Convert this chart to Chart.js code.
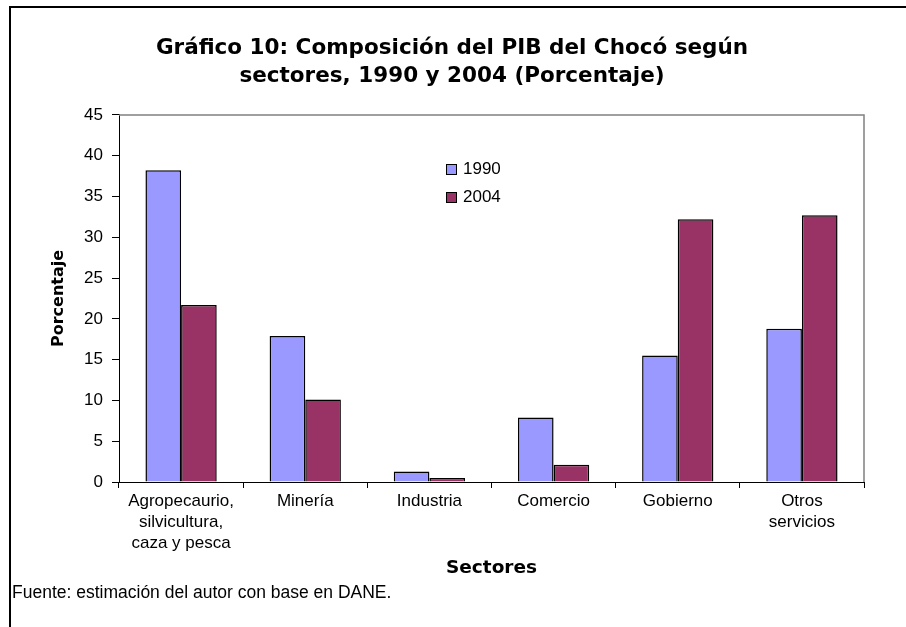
<!DOCTYPE html>
<html><head><meta charset="utf-8">
<script src="https://cdn.jsdelivr.net/npm/chart.js@4/dist/chart.umd.min.js"></script>
<style>html,body{margin:0;padding:0;background:#fff;overflow:hidden}#wrap{width:906px;height:627px;position:relative}</style>
</head><body><div id="wrap"><canvas id="c"></canvas></div>
<script>
const categories = [["Agropecaurio,","silvicultura,","caza y pesca"],"Minería","Industria","Comercio","Gobierno",["Otros","servicios"]];
const series1990 = [38.2, 17.9, 1.3, 7.9, 15.5, 18.8];
const series2004 = [21.7, 10.1, 0.5, 2.1, 32.2, 32.7];
const seriesLabels = ["1990", "2004"];
const seriesColors = ["#9999FF", "#993366"];
const yTicks = [0, 5, 10, 15, 20, 25, 30, 35, 40, 45];
const titleLines = ["Gráfico 10: Composición del PIB del Chocó según", "sectores, 1990 y 2004 (Porcentaje)"];
const xTitle = "Sectores";
const yTitle = "Porcentaje";
const footnote = "Fuente: estimación del autor con base en DANE.";

const REG = '"Liberation Sans", Arial, sans-serif';
const BOLD = '"DejaVu Sans", sans-serif';

const deco = {
  id: 'deco',
  beforeDraw(chart) {
    const ctx = chart.ctx;
    ctx.save();
    ctx.fillStyle = '#fff';
    ctx.fillRect(0, 0, chart.width, chart.height);
    ctx.restore();
  },
  afterDraw(chart) {
    const ctx = chart.ctx, a = chart.chartArea;
    ctx.save();
    ctx.strokeStyle = '#808080';
    ctx.lineWidth = 1.5;
    ctx.beginPath();
    ctx.moveTo(a.left, a.top);
    ctx.lineTo(a.right, a.top);
    ctx.lineTo(a.right, a.bottom);
    ctx.stroke();
    ctx.fillStyle = '#000';
    ctx.fillRect(9, 6, 2, chart.height - 6);
    ctx.fillRect(9, 6, chart.width - 9, 2);
    ctx.font = '17px ' + REG;
    ctx.textBaseline = 'middle';
    ctx.textAlign = 'left';
    chart.data.datasets.forEach((ds, i) => {
      const y = 164 + i * 28;
      ctx.fillStyle = ds.backgroundColor;
      ctx.fillRect(446, y, 10, 10);
      ctx.strokeStyle = '#000';
      ctx.lineWidth = 1;
      ctx.strokeRect(446.5, y + 0.5, 10, 10);
      ctx.fillStyle = '#000';
      ctx.fillText(ds.label, 463, y + 5.5);
    });
    ctx.font = '17.5px ' + REG;
    ctx.fillStyle = '#000';
    ctx.fillText(footnote, 12, 593);
    ctx.restore();
  }
};

new Chart(document.getElementById('c'), {
  type: 'bar',
  data: {
    labels: categories,
    datasets: [
      { label: seriesLabels[0], data: series1990, backgroundColor: seriesColors[0], borderColor: '#000', borderWidth: 1.5, categoryPercentage: 0.574, barPercentage: 1.0 },
      { label: seriesLabels[1], data: series2004, backgroundColor: seriesColors[1], borderColor: '#000', borderWidth: 1.5, categoryPercentage: 0.574, barPercentage: 1.0 }
    ]
  },
  options: {
    responsive: true,
    maintainAspectRatio: false,
    animation: false,
    layout: { padding: { left: 40, right: 42, top: 0, bottom: 48 } },
    plugins: {
      legend: { display: false },
      tooltip: { enabled: false },
      title: {
        display: true,
        text: titleLines,
        color: '#000',
        font: { family: BOLD, weight: 'bold', size: 21.5, lineHeight: 1.3 },
        padding: { top: 34, bottom: 25 }
      }
    },
    scales: {
      x: {
        grid: { display: true, offset: true, drawOnChartArea: false, drawTicks: true, tickLength: 6, color: '#000' },
        border: { display: true, color: '#000', width: 1 },
        ticks: { color: '#000', font: { family: REG, size: 17, lineHeight: 1.24 }, padding: 3, maxRotation: 0, autoSkip: false },
        title: { display: true, text: xTitle, color: '#000', font: { family: BOLD, weight: 'bold', size: 18.5, lineHeight: 1.2 }, padding: { top: 0, bottom: 0 } },
        afterFit(s) { s.height = 97; }
      },
      y: {
        min: 0, max: 45,
        afterBuildTicks(s) { s.ticks = yTicks.map(v => ({ value: v })); },
        grid: { display: true, drawOnChartArea: false, drawTicks: true, tickLength: 7, color: '#000' },
        border: { display: true, color: '#000', width: 1 },
        ticks: { color: '#000', font: { family: REG, size: 17 }, padding: 9 },
        title: { display: true, text: yTitle, color: '#000', font: { family: BOLD, weight: 'bold', size: 16, lineHeight: 1.2 }, padding: { top: 9, bottom: 0 } },
        afterFit(s) { s.width = 79; }
      }
    }
  },
  plugins: [deco]
});
</script>
</body></html>
